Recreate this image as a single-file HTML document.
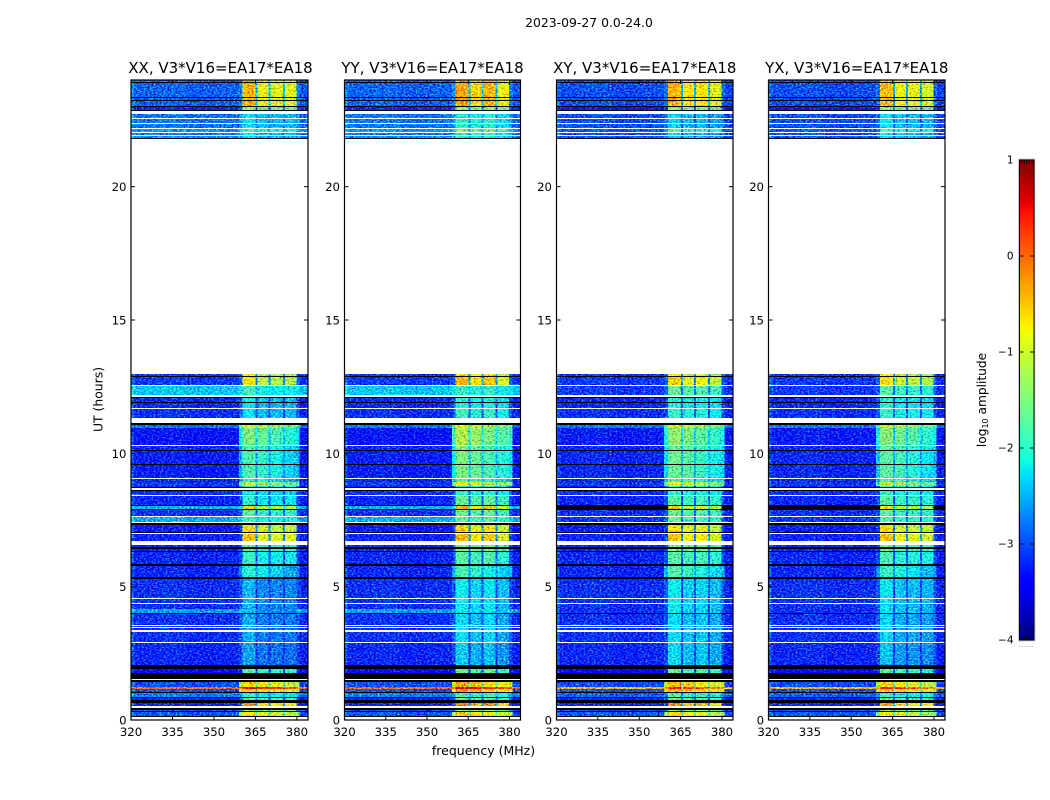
<!DOCTYPE html>
<html lang="en">
<head>
<meta charset="utf-8">
<title>2023-09-27 0.0-24.0</title>
<style>
html,body{margin:0;padding:0;background:#fff;}
#fig{display:block;width:1050px;height:800px;}
text{font-family:"DejaVu Sans","Liberation Sans",sans-serif;fill:#000;}
</style>
</head>
<body>
<svg id="fig" xmlns="http://www.w3.org/2000/svg" width="1050" height="800" viewBox="0 0 1050 800">
  <defs id="defs"></defs>
  <text x="589" y="27" text-anchor="middle" font-size="12.4">2023-09-27 0.0-24.0</text>
  <text x="102.5" y="399.5" text-anchor="middle" font-size="12.4" transform="rotate(-90 102.5 399.5)">UT (hours)</text>
  <text x="483.5" y="755" text-anchor="middle" font-size="12.5">frequency (MHz)</text>
  <g id="panels"></g>
  <g id="colorbar"></g>
  <text x="986" y="400" text-anchor="middle" font-size="12.2" transform="rotate(-90 986 400)">log<tspan font-size="8" dy="2">10</tspan><tspan dy="-2"> amplitude</tspan></text>
  <text x="1026.5" y="647" text-anchor="middle" font-size="7" letter-spacing="0.4" style="fill:#777">......</text>
</svg>
<script>
const F = -9;   // flagged sample, drawn black
const W = null; // no data, left white

const panelTitles = ["XX, V3*V16=EA17*EA18", "YY, V3*V16=EA17*EA18", "XY, V3*V16=EA17*EA18", "YX, V3*V16=EA17*EA18"];
const xTicks = [320, 335, 350, 365, 380];
const yTicks = [0, 5, 10, 15, 20];
const colorbarTicks = [1, 0, -1, -2, -3, -4];
const colorbarLabels = ["1", "0", "\u22121", "\u22122", "\u22123", "\u22124"];

// Frequency channels (MHz) and what kind of spectrum each one belongs to.
const freqEdges = [320, 321, 330, 340, 350, 359, 360.4, 362, 363.5, 365.1, 365.8, 367, 368.5, 369.8, 370.5, 372, 373.5, 374.9, 375.6, 377, 378.5, 379.9, 381, 384];
const columnKind = ["bg", "bg", "bg", "bg", "bg", "lo", "band", "band", "band", "gap", "band", "band", "band", "gap", "band", "band", "band", "gap", "band", "band", "band", "hi", "bg"];
const backgroundShape = [0.25, 0, 0.03, -0.03, 0, 0, 0, 0, 0, 0, 0, 0, 0, 0, 0, 0, 0, 0, 0, 0, 0, 0, -0.05];

// In-band spectral shape per polarisation (12 band channels, log10 offset).
const shapeXX = [0.5, 0.6, 0.5, 0.1, 0.15, 0.05, 0, 0.1, 0, 0.05, 0.1, -0.05];
const shapeYY = [0.5, 0.6, 0.5, 0.25, 0.3, 0.2, 0.45, 0.5, 0.4, 0, 0.05, -0.05];
const shapeXY = [0.5, 0.6, 0.45, 0.2, 0.25, 0.15, 0.25, 0.3, 0.2, 0, 0.05, -0.05];
const shapeYX = [0.5, 0.6, 0.5, 0.15, 0.2, 0.1, 0.1, 0.15, 0.05, 0, 0.05, -0.05];
// Wider-band rows fall off from the low-frequency side to the high-frequency side.
const wideBandSlope = [0.25, 0.3, 0.3, 0.2, 0.15, 0.1, 0, 0, -0.1, -0.2, -0.25, -0.3];

// UT row edges in hours, top of plot to bottom.
const rowEdges = [
  24,23.93,23.89,23.78,23.74,23.36,23.33,23.25,23.21,23.03,
  22.99,22.86,22.82,22.73,22.56,22.52,22.39,22.35,22.29,22.26,
  22.2,22.16,22.05,22.01,21.94,21.9,21.81,21.77,12.99,12.96,
  12.9,12.86,12.58,12.54,12.51,12.17,12.11,12.08,11.93,11.89,
  11.7,11.66,11.31,11.12,11.06,10.95,10.33,10.28,10.14,10.11,
  10.07,9.6,9.56,9.08,9.04,8.93,8.78,8.74,8.7,8.64,
  8.59,8.44,8.4,8.08,8.04,7.91,7.88,7.65,7.61,7.44,
  7.39,7.33,7.05,7.01,6.98,6.73,6.56,6.47,6.43,6.34,
  6.3,5.85,5.78,5.36,5.29,4.58,4.54,4.39,4.35,4.16,
  4.01,3.98,3.56,3.53,3.49,3.45,3.38,3.3,2.93,2.89,
  2.06,1.91,1.76,1.55,1.5,1.44,1.24,1.16,1.05,1.01,
  0.88,0.84,0.75,0.64,0.53,0.45,0.39,0.34,0.3,0.15,0.11,0
];

// Rows whose in-band emission spreads to the wider 359-381 MHz range.
const wideBandRows = [44, 45, 47, 50, 52, 54, 55, 82, 105, 106, 107, 118];

// Out-of-band level per row, log10 amplitude.
const backgroundParallel = [
  -2.9,F,-2.9,-2.9,-2.9,F,-2.9,F,-2.9,F,
  -3.2,F,W,-2.8,W,-2.8,W,-2.8,W,-2.8,
  W,-2.65,W,-2.8,W,-2.65,F,W,F,-3.1,
  F,-3.1,W,-3.1,-2.4,W,F,-3.2,F,-3.2,
  W,-3.15,W,F,-2.8,-3.3,W,-3.2,W,F,
  -3.25,F,-3.25,W,-3.2,-3.1,-3.2,F,W,F,
  -3.15,W,-3.2,F,-2.5,F,-3.15,W,-2.55,W,
  F,-3.25,F,W,-3.2,W,-3.2,F,-3.2,F,
  -3.2,F,-3.2,F,-3.15,W,-3.15,W,-3.15,-2.6,
  F,-3.15,W,-3.15,W,-3.15,W,-3.15,W,-3.2,
  F,-3.4,F,W,F,-3,0,-3,F,-2.75,
  F,-3.2,F,-3.2,W,F,-3,F,-2.95,F,W
];
const backgroundCross = [
  -3,F,-3,-3,-3,F,-3,F,-3,F,
  -3.3,F,W,-3.0,W,-3.0,W,-3.0,W,-3.0,
  W,-2.95,W,-3.0,W,-2.95,F,W,F,-3.1,
  F,-3.1,W,-3.1,-3.1,W,F,-3.2,F,-3.2,
  W,-3.15,W,F,-2.8,-3.25,W,-3.2,W,F,
  -3.2,F,-3.2,W,-3.2,-3.1,-3.2,F,W,F,
  -3.15,W,-3.2,F,F,F,-3.15,W,-3.15,W,
  F,-3.25,F,W,-3.2,W,-3.2,F,-3.2,F,
  -3.2,F,-3.2,F,-3.15,W,-3.15,W,-3.15,-3.15,
  F,-3.15,W,-3.15,W,-3.15,W,-3.15,W,-3.2,
  F,-3.4,F,W,F,-3,-0.4,-3,F,-2.9,
  F,-3.2,F,-3.2,W,F,-3,F,-2.95,F,W
];

// In-band level per row, log10 amplitude.
const bandXX = [
  -0.95,F,-0.95,-0.95,-0.95,F,-0.95,F,-0.95,F,
  -1.6,F,W,-2.5,W,-2.5,W,-2.5,W,-2.5,
  W,-2.1,W,-2.5,W,-2.5,F,W,F,-1.25,
  F,-1.25,W,-2.2,-2.2,W,F,-2.5,F,-2.5,
  W,-2.5,W,F,-1.35,-1.8,W,-2.1,W,F,
  -2.1,F,-2.1,W,-2.3,-1.4,-2.2,F,W,F,
  -2.4,W,-2.25,F,-1.1,F,-2,W,-2.1,W,
  F,-1.15,F,W,-1,W,-2,F,-2,F,
  -2.2,F,-2.3,F,-2.75,W,-2.75,W,-2.75,-2.75,
  F,-2.8,W,-2.8,W,-2.8,W,-2.8,W,-2.85,
  F,-2,F,W,F,-0.85,0.3,-0.85,F,-2.2,
  F,-1.9,F,-0.75,W,F,-1.6,F,-0.95,F,W
];
const bandYY = [
  -0.9,F,-0.9,-0.9,-0.85,F,-0.85,F,-0.85,F,
  -1.6,F,W,-2.25,W,-2.25,W,-2.25,W,-2.25,
  W,-1.75,W,-2.25,W,-2.25,F,W,F,-1.1,
  F,-0.95,W,-2.2,-2.2,W,F,-2.3,F,-2.3,
  W,-2.15,W,F,-1.25,-1.5,W,-1.8,W,F,
  -1.8,F,-1.8,W,-2.1,-1.1,-2.2,F,W,F,
  -2.2,W,-1.9,F,-0.95,F,-1.9,W,-1.9,W,
  F,-1.1,F,W,-0.95,W,-1.8,F,-1.8,F,
  -2,F,-2.1,F,-2.45,W,-2.45,W,-2.45,-2.45,
  F,-2.55,W,-2.55,W,-2.55,W,-2.55,W,-2.65,
  F,-1.9,F,W,F,-0.6,0.4,-0.55,F,-2,
  F,-1.9,F,-0.65,W,F,-1.6,F,-0.8,F,W
];
const bandXY = [
  -0.9,F,-0.9,-0.9,-0.95,F,-0.95,F,-0.95,F,
  -1.6,F,W,-2.6,W,-2.6,W,-2.6,W,-2.6,
  W,-2,W,-2.6,W,-2.6,F,W,F,-1.3,
  F,-1.1,W,-2,-1.9,W,F,-2.3,F,-2.3,
  W,-2.2,W,F,-1.3,-1.7,W,-1.9,W,F,
  -1.9,F,-1.9,W,-2.1,-1.2,-2.2,F,W,F,
  -2.2,W,-2,F,-1.1,F,-1.9,W,-1.9,W,
  F,-1.15,F,W,-1,W,-1.8,F,-1.8,F,
  -2,F,-2.05,F,-2.45,W,-2.45,W,-2.45,-2.45,
  F,-2.55,W,-2.55,W,-2.55,W,-2.55,W,-2.55,
  F,-1.9,F,W,F,-0.7,0.1,-0.7,F,-2,
  F,-1.9,F,-0.7,W,F,-1.6,F,-0.9,F,W
];
const bandYX = [
  -0.95,F,-0.95,-0.95,-1,F,-1,F,-1,F,
  -1.6,F,W,-2.5,W,-2.5,W,-2.5,W,-2.5,
  W,-2.1,W,-2.5,W,-2.5,F,W,F,-1.3,
  F,-1.2,W,-2,-2,W,F,-2.3,F,-2.3,
  W,-2.2,W,F,-1.4,-1.75,W,-1.95,W,F,
  -2,F,-2,W,-2.1,-1.4,-2.2,F,W,F,
  -2.2,W,-2,F,-1.2,F,-2,W,-2,W,
  F,-1.15,F,W,-1,W,-1.9,F,-1.9,F,
  -2.1,F,-2.2,F,-2.5,W,-2.5,W,-2.5,-2.5,
  F,-2.6,W,-2.6,W,-2.6,W,-2.6,W,-2.7,
  F,-2,F,W,F,-0.85,0.1,-0.85,F,-2.1,
  F,-1.9,F,-0.8,W,F,-1.6,F,-1.05,F,W
];

const SVGNS = "http://www.w3.org/2000/svg";
const panelLefts = [131, 344.5, 556.5, 768.5];
const panelRights = [308, 520.5, 733, 945];
const plotTop = 80, plotBottom = 720;
const cbLeft = 1019.5, cbRight = 1034, cbTop = 160, cbBottom = 640;

function make(tag, attrs, parent) {
  const el = document.createElementNS(SVGNS, tag);
  for (const k in attrs) el.setAttribute(k, attrs[k]);
  parent.appendChild(el);
  return el;
}
function yScale(ut) { return Math.round(plotBottom - ut * (plotBottom - plotTop) / 24); }
function xScale(f, p) { return panelLefts[p] + (f - 320) * (panelRights[p] - panelLefts[p]) / 64; }
function cbScale(v) { return cbBottom - (v + 4) * (cbBottom - cbTop) / 5; }
function seg(t, a, b) { return Math.min(1, Math.max(0, (t - a) / (b - a))); }
function jet(v) {
  const t = Math.min(1, Math.max(0, (v + 4) / 5));
  const r = t < 0.89 ? seg(t, 0.35, 0.66) : 1 - 0.5 * seg(t, 0.89, 1);
  const g = t < 0.64 ? seg(t, 0.125, 0.375) : 1 - seg(t, 0.64, 0.91);
  const b = t < 0.34 ? 0.5 + 0.5 * seg(t, 0, 0.11) : 1 - seg(t, 0.34, 0.65);
  return "rgb(" + Math.round(r * 255) + "," + Math.round(g * 255) + "," + Math.round(b * 255) + ")";
}

function cellValue(row, col, bg, band, shape, wide) {
  const kind = columnKind[col];
  const b = bg[row], l = band[row];
  if (b === W || l === W) return W;
  if (kind === "bg") return b === F ? F : b + backgroundShape[col];
  if (l === F) return F;
  const isWide = wide.indexOf(row) >= 0;
  if (kind === "lo" || kind === "hi") {
    if (isWide) return l - 0.4;
    return b === F ? F : b + 0.2;
  }
  if (kind === "gap") {
    if (b === F) return l - 1.2;
    return l - (isWide ? 0.4 : 0.75) * (l - b);
  }
  let bandIndex = 0;
  for (let c = 0; c < col; c++) if (columnKind[c] === "band") bandIndex++;
  if (isWide) return l + wideBandSlope[bandIndex];
  return l + shape[bandIndex] * (l > -1.5 ? 1 : 0.5);
}

const panelsRoot = document.getElementById("panels");
const defs = document.getElementById("defs");
const polBackgrounds = [backgroundParallel, backgroundParallel, backgroundCross, backgroundCross];
const polBands = [bandXX, bandYY, bandXY, bandYX];
const polShapes = [shapeXX, shapeYY, shapeXY, shapeYX];
const polNames = ["xx", "yy", "xy", "yx"];

panelTitles.forEach(function (title, p) {
  const filter = make("filter", {
    id: "speckle" + p, x: 0, y: 0, width: 1050, height: 800,
    filterUnits: "userSpaceOnUse", "color-interpolation-filters": "sRGB"
  }, defs);
  make("feTurbulence", { type: "fractalNoise", baseFrequency: "0.5 0.7", numOctaves: 1, seed: 3 + p * 7, result: "n" }, filter);
  make("feColorMatrix", { in: "n", type: "matrix", values: "0.7 0 0 0 0.15  1.4 0 0 0 -0.2  0.7 0 0 0 0.15  0 0 0 0 1", result: "m" }, filter);
  make("feComposite", { in: "SourceGraphic", in2: "m", operator: "arithmetic", k1: 0, k2: 1, k3: 1.1, k4: -0.55, result: "c" }, filter);
  make("feComposite", { in: "c", in2: "SourceAlpha", operator: "in" }, filter);

  const panel = make("g", {}, panelsRoot);
  
  

  const dataLayer = make("g", { filter: "url(#speckle" + p + ")", "shape-rendering": "crispEdges" }, panel);
  
  
  const flagLayer = make("g", { "shape-rendering": "crispEdges" }, panel);
  
  

  for (let r = 0; r < rowEdges.length - 1; r++) {
    const y0 = yScale(rowEdges[r]), y1 = yScale(rowEdges[r + 1]);
    for (let c = 0; c < freqEdges.length - 1; c++) {
      const v = cellValue(r, c, polBackgrounds[p], polBands[p], polShapes[p], wideBandRows);
      if (v === W) continue;
      const x0 = xScale(freqEdges[c], p), x1 = xScale(freqEdges[c + 1], p);
      const cell = make("rect", {
        x: x0, y: y0, width: x1 - x0 + 0.3, height: y1 - y0,
        fill: v === F ? "#000" : jet(v)
      }, v === F ? flagLayer : dataLayer);
      
      
    }
  }

  const left = panelLefts[p], right = panelRights[p];
  const frame = make("rect", {
    x: left, y: plotTop, width: right - left, height: plotBottom - plotTop,
    fill: "none", stroke: "#000", "stroke-width": 1.2
  }, panel);
  
  

  xTicks.forEach(function (t) {
    const x = xScale(t, p);
    const a = make("line", { x1: x, x2: x, y1: plotBottom, y2: plotBottom - 4, stroke: "#000", "stroke-width": 1 }, panel);
    
    
    const b = make("line", { x1: x, x2: x, y1: plotTop, y2: plotTop + 4, stroke: "#000", "stroke-width": 1 }, panel);
    
    
    const label = make("text", { x: x, y: 736, "text-anchor": "middle", "font-size": 11.7 }, panel);
    label.textContent = String(t);
    
    
  });
  yTicks.forEach(function (t) {
    const y = plotBottom - t * (plotBottom - plotTop) / 24;
    const a = make("line", { x1: left, x2: left + 4, y1: y, y2: y, stroke: "#000", "stroke-width": 1 }, panel);
    
    
    const b = make("line", { x1: right, x2: right - 4, y1: y, y2: y, stroke: "#000", "stroke-width": 1 }, panel);
    
    
    const label = make("text", { x: left - 4.5, y: y + 4.5, "text-anchor": "end", "font-size": 11.7 }, panel);
    label.textContent = String(t);
    
    
  });
  const titleEl = make("text", { x: (left + right) / 2 + (p === 0 ? 1 : 0), y: 73, "text-anchor": "middle", "font-size": 15 }, panel);
  titleEl.textContent = title;
  
  
});

// Colorbar
const cb = document.getElementById("colorbar");
const grad = make("linearGradient", { id: "jetGradient", x1: 0, y1: 1, x2: 0, y2: 0 }, defs);
for (let i = 0; i <= 100; i++) {
  make("stop", { offset: i / 100, "stop-color": jet(-4 + 5 * i / 100) }, grad);
}
const cbHalo = make("rect", { x: cbLeft - 0.8, y: cbTop - 0.8, width: cbRight - cbLeft + 1.6, height: cbBottom - cbTop + 1.6, fill: "none", stroke: "#bbb", "stroke-width": 1 }, cb);


const cbFill = make("rect", { x: cbLeft, y: cbTop, width: cbRight - cbLeft, height: cbBottom - cbTop, fill: "url(#jetGradient)", stroke: "#000", "stroke-width": 1 }, cb);


colorbarTicks.forEach(function (t, i) {
  const y = cbScale(t);
  const a = make("line", { x1: cbLeft, x2: cbLeft + 4, y1: y, y2: y, stroke: "#000", "stroke-width": 1 }, cb);
  
  
  const b = make("line", { x1: cbRight, x2: cbRight - 4, y1: y, y2: y, stroke: "#000", "stroke-width": 1 }, cb);
  
  
  const label = make("text", { x: 1013.5, y: y + 3.5, "text-anchor": "end", "font-size": 10.5 }, cb);
  label.textContent = colorbarLabels[i];
  
  
});
[0.15, 0.32, 0.5, 0.68, 0.85].forEach(function (frac) {
  const x = cbLeft + frac * (cbRight - cbLeft);
  const a = make("line", { x1: x, x2: x, y1: cbTop, y2: cbTop + 4, stroke: "#000", "stroke-width": 0.8 }, cb);
  
  
  const b = make("line", { x1: x, x2: x, y1: cbBottom, y2: cbBottom - 4, stroke: "#000", "stroke-width": 0.8 }, cb);
  
  
});
</script>
</body>
</html>
